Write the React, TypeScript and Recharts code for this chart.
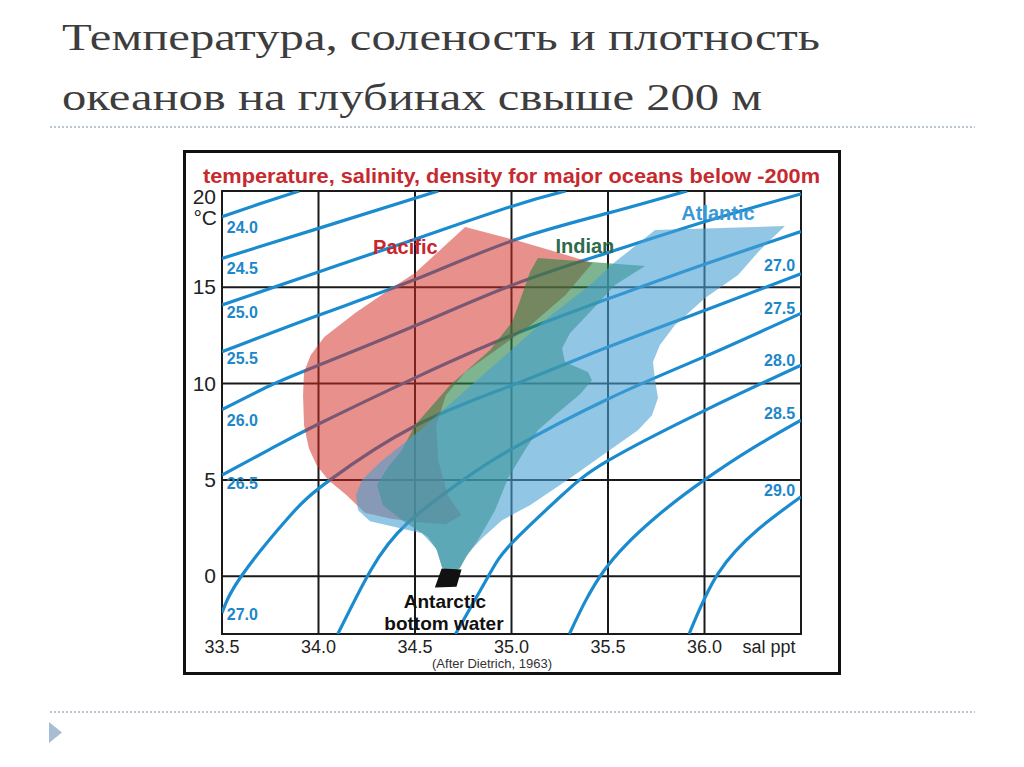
import { ScatterChart, Scatter, XAxis, YAxis, CartesianGrid, ReferenceArea } from "recharts"

type Pt = { s: number; t: number }
type Tag = { s: number; t: number; text: string }

const salinityTicks = [33.5, 34, 34.5, 35, 35.5, 36, 36.5]
const temperatureTicks = [-3, 0, 5, 10, 15, 20]

// sigma-t isolines: salinity (ppt) vs temperature (°C)
const sigma240: Pt[] = [{ s: 33.5, t: 18.67 }, { s: 33.7, t: 19.35 }, { s: 33.9, t: 20 }]
const sigma245: Pt[] = [{ s: 33.5, t: 16.5 }, { s: 34.0, t: 18.06 }, { s: 34.62, t: 20 }]
const sigma250: Pt[] = [{ s: 33.5, t: 14.08 }, { s: 34.0, t: 15.8 }, { s: 34.5, t: 17.5 }, { s: 35.0, t: 19.2 }, { s: 35.28, t: 20 }]
const sigma255: Pt[] = [{ s: 33.5, t: 11.65 }, { s: 34.0, t: 13.55 }, { s: 34.5, t: 15.4 }, { s: 35.0, t: 17.4 }, { s: 35.5, t: 18.85 }, { s: 35.91, t: 20 }]
const sigma260: Pt[] = [{ s: 33.5, t: 8.65 }, { s: 33.75, t: 9.9 }, { s: 34.0, t: 10.95 }, { s: 34.5, t: 13.0 }, { s: 35.0, t: 15.1 }, { s: 35.5, t: 16.8 }, { s: 36.0, t: 18.4 }, { s: 36.5, t: 19.85 }]
const sigma265: Pt[] = [{ s: 33.5, t: 5.25 }, { s: 33.75, t: 6.6 }, { s: 34.0, t: 7.9 }, { s: 34.5, t: 10.3 }, { s: 35.0, t: 12.5 }, { s: 35.5, t: 14.4 }, { s: 36.0, t: 16.2 }, { s: 36.5, t: 17.9 }]
const sigma270: Pt[] = [{ s: 33.5, t: -1.9 }, { s: 33.6, t: 0.0 }, { s: 33.84, t: 3.0 }, { s: 34.06, t: 5.0 }, { s: 34.5, t: 7.8 }, { s: 35.0, t: 9.9 }, { s: 35.5, t: 11.9 }, { s: 36.0, t: 13.8 }, { s: 36.5, t: 15.7 }]
const sigma275: Pt[] = [{ s: 34.1, t: -3 }, { s: 34.27, t: 0.3 }, { s: 34.46, t: 2.75 }, { s: 34.75, t: 5.0 }, { s: 35.0, t: 6.6 }, { s: 35.5, t: 9.2 }, { s: 36.0, t: 11.4 }, { s: 36.5, t: 13.65 }]
const sigma280: Pt[] = [{ s: 34.71, t: -3 }, { s: 34.88, t: 0 }, { s: 35.0, t: 1.7 }, { s: 35.25, t: 4.1 }, { s: 35.5, t: 6.0 }, { s: 36.0, t: 8.6 }, { s: 36.5, t: 10.96 }]
const sigma285: Pt[] = [{ s: 35.3, t: -3 }, { s: 35.48, t: 0.3 }, { s: 35.74, t: 3.0 }, { s: 36.0, t: 5.0 }, { s: 36.25, t: 6.65 }, { s: 36.5, t: 8.1 }]
const sigma290: Pt[] = [{ s: 35.92, t: -3 }, { s: 36.07, t: 0.14 }, { s: 36.28, t: 2.45 }, { s: 36.5, t: 4.12 }]

const isolines = [sigma240, sigma245, sigma250, sigma255, sigma260, sigma265, sigma270, sigma275, sigma280, sigma285, sigma290]

// water mass envelopes (outline traced clockwise)
const pacific: Pt[] = [
  { s: 34.76, t: 18.13 }, { s: 35.02, t: 17.45 }, { s: 35.25, t: 16.78 }, { s: 35.42, t: 16.26 },
  { s: 35.28, t: 14.6 }, { s: 35.1, t: 13.04 }, { s: 34.92, t: 11.74 }, { s: 34.76, t: 10.6 },
  { s: 34.66, t: 9.4 }, { s: 34.61, t: 7.84 }, { s: 34.62, t: 6.03 }, { s: 34.67, t: 4.21 },
  { s: 34.74, t: 3.17 }, { s: 34.66, t: 2.7 }, { s: 34.5, t: 2.81 }, { s: 34.37, t: 3.0 },
  { s: 34.24, t: 3.3 }, { s: 34.14, t: 4.26 }, { s: 34.05, t: 4.99 }, { s: 33.99, t: 5.77 },
  { s: 33.95, t: 6.65 }, { s: 33.925, t: 7.84 }, { s: 33.92, t: 9.4 }, { s: 33.925, t: 10.6 },
  { s: 33.96, t: 11.48 }, { s: 34.03, t: 12.42 }, { s: 34.19, t: 13.66 }, { s: 34.38, t: 14.96 },
  { s: 34.5, t: 15.74 },
]
const indian: Pt[] = [
  { s: 35.137, t: 16.52 }, { s: 35.692, t: 16.1 }, { s: 35.536, t: 15.12 }, { s: 35.417, t: 13.82 },
  { s: 35.303, t: 12.62 }, { s: 35.262, t: 11.84 }, { s: 35.277, t: 11.12 }, { s: 35.396, t: 10.6 },
  { s: 35.417, t: 10.18 }, { s: 35.355, t: 9.45 }, { s: 35.225, t: 8.36 }, { s: 35.137, t: 7.58 },
  { s: 35.07, t: 6.55 }, { s: 34.982, t: 5.09 }, { s: 34.915, t: 3.43 }, { s: 34.826, t: 1.87 },
  { s: 34.764, t: 0.99 }, { s: 34.733, t: 0.42 }, { s: 34.681, t: 0.16 }, { s: 34.64, t: 0.47 },
  { s: 34.614, t: 1.35 }, { s: 34.567, t: 2.03 }, { s: 34.433, t: 2.91 }, { s: 34.334, t: 3.69 },
  { s: 34.303, t: 4.73 }, { s: 34.36, t: 5.66 }, { s: 34.433, t: 6.55 }, { s: 34.5, t: 7.84 },
  { s: 34.681, t: 9.92 }, { s: 34.889, t: 11.74 }, { s: 35.003, t: 13.19 }, { s: 35.054, t: 14.6 },
  { s: 35.096, t: 15.79 },
]
const atlantic: Pt[] = [
  { s: 35.744, t: 17.97 }, { s: 36.417, t: 18.18 }, { s: 36.288, t: 16.94 }, { s: 36.174, t: 15.64 },
  { s: 36.003, t: 14.44 }, { s: 35.847, t: 13.04 }, { s: 35.769, t: 12.0 }, { s: 35.733, t: 11.12 },
  { s: 35.744, t: 10.18 }, { s: 35.759, t: 9.25 }, { s: 35.728, t: 8.36 }, { s: 35.655, t: 7.58 },
  { s: 35.51, t: 6.55 }, { s: 35.303, t: 5.09 }, { s: 35.096, t: 3.69 }, { s: 34.951, t: 2.91 },
  { s: 34.847, t: 1.97 }, { s: 34.775, t: 1.19 }, { s: 34.733, t: 0.47 }, { s: 34.692, t: 0.05 },
  { s: 34.64, t: 0.47 }, { s: 34.609, t: 1.45 }, { s: 34.536, t: 2.23 }, { s: 34.396, t: 2.55 },
  { s: 34.267, t: 2.86 }, { s: 34.205, t: 3.43 }, { s: 34.194, t: 4.21 }, { s: 34.225, t: 4.99 },
  { s: 34.319, t: 5.92 }, { s: 34.526, t: 7.58 }, { s: 34.733, t: 9.4 }, { s: 34.94, t: 11.22 },
  { s: 35.174, t: 13.3 }, { s: 35.407, t: 15.12 }, { s: 35.536, t: 16.31 },
]
const antarcticBottom: Pt[] = [{ s: 34.638, t: 0.4 }, { s: 34.741, t: 0.35 }, { s: 34.715, t: -0.55 }, { s: 34.603, t: -0.58 }]

// annotations
const leftDensityLabels: Tag[] = [
  { s: 33.525, t: 18.14, text: "24.0" }, { s: 33.525, t: 16.0, text: "24.5" }, { s: 33.525, t: 13.73, text: "25.0" },
  { s: 33.525, t: 11.34, text: "25.5" }, { s: 33.525, t: 8.1, text: "26.0" }, { s: 33.525, t: 4.85, text: "26.5" },
  { s: 33.525, t: -1.97, text: "27.0" },
]
const rightDensityLabels: Tag[] = [
  { s: 36.47, t: 16.16, text: "27.0" }, { s: 36.47, t: 13.9, text: "27.5" }, { s: 36.47, t: 11.22, text: "28.0" },
  { s: 36.47, t: 8.45, text: "28.5" }, { s: 36.47, t: 4.47, text: "29.0" },
]
const oceanLabels: Tag[] = [
  { s: 34.45, t: 17.12, text: "Pacific" }, { s: 35.38, t: 17.17, text: "Indian" }, { s: 36.07, t: 18.86, text: "Atlantic" },
]
const bottomWaterLabels: Tag[] = [{ s: 34.655, t: -1.3, text: "Antarctic" }, { s: 34.65, t: -2.42, text: "bottom water" }]

const oceanColors: Record<string, string> = { Pacific: "#c8262c", Indian: "#2f6a4c", Atlantic: "#3a98d6" }

const EmptyShape = () => <g />

const textShape = (anchor: "start" | "middle" | "end", size: number, color?: string) => (p: any) => (
  <text
    x={p.cx}
    y={p.cy}
    dy={size * 0.36}
    textAnchor={anchor}
    fontFamily="'Liberation Sans', Arial, sans-serif"
    fontWeight="bold"
    fontSize={size}
    fill={color ?? oceanColors[p.payload.text] ?? "#111"}
  >
    {p.payload.text}
  </text>
)

const TempTick = (p: any) => {
  const v = p.payload.value
  if (v === -3) return <g />
  const font = { fontFamily: "'Liberation Sans', Arial, sans-serif", fontSize: 21, fill: "#222", textAnchor: "end" as const }
  return (
    <g>
      <text x={30} y={p.y + (v === 20 ? 13 : 7)} {...font}>{v}</text>
      {v === 20 && <text x={31} y={p.y + 34} {...font}>°C</text>}
    </g>
  )
}

const SalTick = (p: any) => {
  const v = p.payload.value
  const font = { fontFamily: "'Liberation Sans', Arial, sans-serif", fontSize: 18, fill: "#222", textAnchor: "middle" as const }
  if (v === 36.5) return <text x={p.x - 32} y={500} {...font}>sal ppt</text>
  return <text x={p.x} y={500} {...font}>{v.toFixed(1)}</text>
}

export default function App() {
  return (
    <div style={{ position: "absolute", left: 0, top: 0, width: 1024, height: 767, background: "#fff", overflow: "hidden" }}>
      <div
        style={{
          position: "absolute",
          left: 183,
          top: 150,
          width: 658,
          height: 525,
          border: "3px solid #111",
          boxSizing: "border-box",
          background: "#fff",
        }}
      >
        <ScatterChart width={652} height={519} margin={{ top: 38, right: 37, bottom: 8, left: 6 }}>
          <CartesianGrid stroke="#1a1a1a" strokeWidth={2} />
          <XAxis
            type="number"
            dataKey="s"
            domain={[33.5, 36.5]}
            ticks={salinityTicks}
            interval={0}
            allowDataOverflow
            axisLine={false}
            tickLine={false}
            height={30}
            tick={SalTick}
          />
          <YAxis
            type="number"
            dataKey="t"
            domain={[-3, 20]}
            ticks={temperatureTicks}
            interval={0}
            allowDataOverflow
            axisLine={false}
            tickLine={false}
            width={30}
            tick={TempTick}
          />
          <ReferenceArea x1={33.5} x2={36.5} y1={-3} y2={20} fill="none" stroke="#1a1a1a" strokeWidth={2} />
          {isolines.map((line, i) => (
            <Scatter
              key={`iso-${i}`}
              data={line}
              line={{ stroke: "#1b8bd0", strokeWidth: 3.2, fill: "none" }}
              lineJointType="natural"
              shape={EmptyShape}
              isAnimationActive={false}
            />
          ))}
          <Scatter data={pacific} line={{ fill: "rgb(210,42,32)", fillOpacity: 0.52, stroke: "none" }} lineJointType="linearClosed" shape={EmptyShape} isAnimationActive={false} />
          <Scatter data={indian} line={{ fill: "rgb(40,130,70)", fillOpacity: 0.6, stroke: "none" }} lineJointType="linearClosed" shape={EmptyShape} isAnimationActive={false} />
          <Scatter data={atlantic} line={{ fill: "rgb(72,160,210)", fillOpacity: 0.6, stroke: "none" }} lineJointType="linearClosed" shape={EmptyShape} isAnimationActive={false} />
          <Scatter data={antarcticBottom} line={{ fill: "#111", stroke: "none" }} lineJointType="linearClosed" shape={EmptyShape} isAnimationActive={false} />
          <Scatter data={leftDensityLabels} shape={textShape("start", 16, "#1d87c9")} isAnimationActive={false} />
          <Scatter data={rightDensityLabels} shape={textShape("end", 16, "#1d87c9")} isAnimationActive={false} />
          <Scatter data={oceanLabels} shape={textShape("middle", 20)} isAnimationActive={false} />
          <Scatter data={bottomWaterLabels} shape={textShape("middle", 19, "#111")} isAnimationActive={false} />
        </ScatterChart>
      </div>
      <svg width={1024} height={767} style={{ position: "absolute", left: 0, top: 0, pointerEvents: "none" }}>
        <text x={62} y={50} fontFamily="'Liberation Serif', serif" fontSize={38} fill="#3d3d3d" textLength={758} lengthAdjust="spacingAndGlyphs">
          Температура, соленость и плотность
        </text>
        <text x={62} y={110} fontFamily="'Liberation Serif', serif" fontSize={38} fill="#3d3d3d" textLength={700} lengthAdjust="spacingAndGlyphs">
          океанов на глубинах свыше 200 м
        </text>
        <line x1={50} x2={975} y1={127} y2={127} stroke="#a3b4c2" strokeWidth={1.3} strokeDasharray="2 2" />
        <line x1={50} x2={975} y1={712} y2={712} stroke="#a3b4c2" strokeWidth={1.3} strokeDasharray="2 2" />
        <polygon points="49,722 62,732.5 49,743" fill="#a8bdd1" />
        <text x={203} y={183} fontFamily="'Liberation Sans', Arial, sans-serif" fontWeight="bold" fontSize={20} fill="#c62a2f" textLength={617} lengthAdjust="spacingAndGlyphs">
          temperature, salinity, density for major oceans below -200m
        </text>
        <text x={492} y={668} textAnchor="middle" fontFamily="'Liberation Sans', Arial, sans-serif" fontSize={13} fill="#333">
          (After Dietrich, 1963)
        </text>
      </svg>
    </div>
  )
}
